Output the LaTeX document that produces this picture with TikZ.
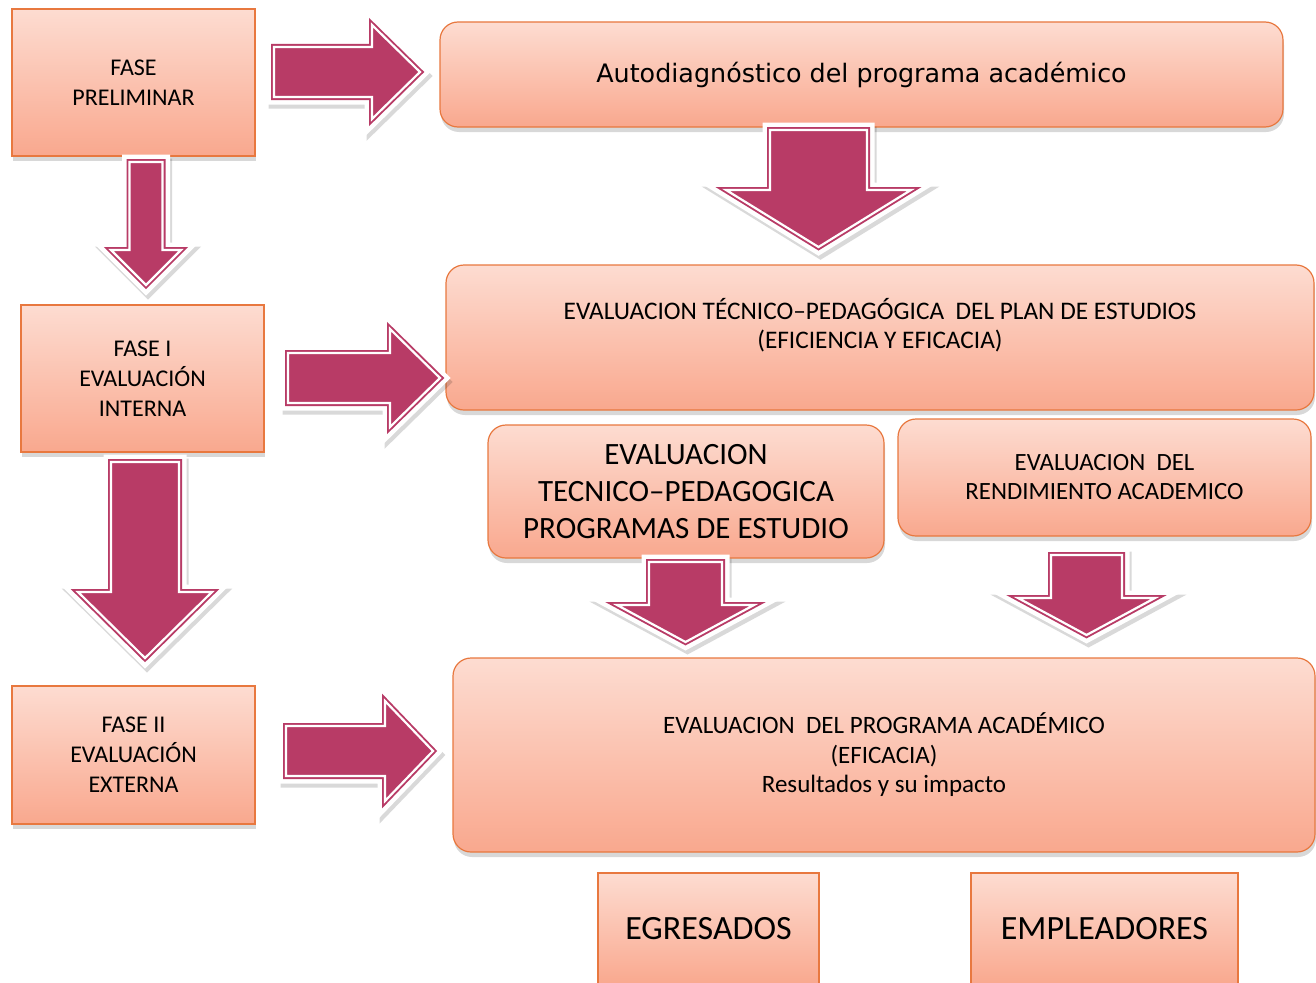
\documentclass[tikz,border=0pt]{standalone}
\usepackage{fontspec}
\setmainfont{Carlito}
\newfontfamily\autofont{DejaVu Sans}
\usepackage{xcolor}
\usetikzlibrary{shadows}

\definecolor{pielclaro}{HTML}{FDDCD1}
\definecolor{pieloscuro}{HTML}{F9A88E}
\definecolor{bordenaranja}{HTML}{E8783F}
\definecolor{flechamagenta}{HTML}{B83B66}

\tikzset{
	caja/.style={draw=bordenaranja, line width=1.2pt, top color=pielclaro, bottom color=pieloscuro, align=center, inner sep=0pt, drop shadow={shadow xshift=1pt, shadow yshift=-5pt, opacity=0.3}},
	fase/.style={caja, font=\fontsize{24}{30}\selectfont},
	etapa/.style={caja, rounded corners=18pt},
	flecha/.style={fill=flechamagenta, draw=flechamagenta, line width=6pt, line join=miter},
	filete/.style={draw=white, line width=2.2pt, line join=miter},
	halo/.style={fill=white, draw=white, line width=15pt, line join=miter},
	sombra/.style={fill=black, draw=black, line width=15pt, line join=miter, opacity=0.15}
}

\newcommand{\trazoder}[6]{(#1,#4-#5) -- (#2,#4-#5) -- (#2,#4-#6) -- (#3,#4) -- (#2,#4+#6) -- (#2,#4+#5) -- (#1,#4+#5) -- cycle}
\newcommand{\trazoabajo}[6]{(#1-#5,#2) -- (#1-#5,#3) -- (#1-#6,#3) -- (#1,#4) -- (#1+#6,#3) -- (#1+#5,#3) -- (#1+#5,#2) -- cycle}
\newcommand{\flechader}[6]{
	\path[sombra, shift={(2,4)}] \trazoder{#1}{#2}{#3}{#4}{#5}{#6};
	\path[halo] \trazoder{#1}{#2}{#3}{#4}{#5}{#6};
	\path[flecha] \trazoder{#1}{#2}{#3}{#4}{#5}{#6};
	\path[filete] \trazoder{#1}{#2}{#3}{#4}{#5}{#6};
}
\newcommand{\flechaabajo}[6]{
	\path[sombra, shift={(2,4)}] \trazoabajo{#1}{#2}{#3}{#4}{#5}{#6};
	\path[halo] \trazoabajo{#1}{#2}{#3}{#4}{#5}{#6};
	\path[flecha] \trazoabajo{#1}{#2}{#3}{#4}{#5}{#6};
	\path[filete] \trazoabajo{#1}{#2}{#3}{#4}{#5}{#6};
}

\begin{document}
\begin{tikzpicture}[x=1pt, y=-1pt]
	\clip (0,0) rectangle (1316,982);
	\fill[white] (0,0) rectangle (1316,982);

	\node[fase, minimum width=243pt, minimum height=147pt] (preliminar) at (133.5,82.5) {FASE\\PRELIMINAR};
	\node[fase, minimum width=243pt, minimum height=147pt] (fasei) at (142.5,378.5) {FASE I\\EVALUACIÓN\\INTERNA};
	\node[fase, minimum width=243pt, minimum height=138pt] (faseii) at (133.5,755) {FASE II\\EVALUACIÓN\\EXTERNA};

	\node[etapa, minimum width=843pt, minimum height=105pt, font=\autofont\fontsize{25.4}{30}\selectfont] (autodiag) at (861.5,74.5) {Autodiagnóstico del programa académico};
	\node[etapa, minimum width=868pt, minimum height=145pt, font=\fontsize{25.3}{29}\selectfont] (plan) at (880,337.5) {EVALUACION TÉCNICO–PEDAGÓGICA\ \ DEL PLAN DE ESTUDIOS\\(EFICIENCIA Y EFICACIA)\\~};
	\node[etapa, minimum width=396pt, minimum height=133pt, font=\fontsize{31}{37}\selectfont] (programas) at (686,491.5) {EVALUACION\\TECNICO–PEDAGOGICA\\PROGRAMAS DE ESTUDIO};
	\node[etapa, minimum width=413pt, minimum height=117pt, font=\fontsize{24.8}{29}\selectfont] (rendimiento) at (1104.5,477.5) {EVALUACION\ \ DEL\\RENDIMIENTO ACADEMICO};
	\node[etapa, minimum width=862pt, minimum height=194pt, font=\fontsize{25}{29.5}\selectfont] (programa) at (884,755) {EVALUACION\ \ DEL PROGRAMA ACADÉMICO\\(EFICACIA)\\Resultados y su impacto};

	\node[caja, minimum width=221pt, minimum height=112pt, font=\fontsize{34}{40}\selectfont] (egresados) at (708.5,929) {EGRESADOS};
	\node[caja, minimum width=267pt, minimum height=112pt, font=\fontsize{34}{40}\selectfont] (empleadores) at (1104.5,929) {EMPLEADORES};

	\flechader{274}{372}{420}{72}{25}{47}
	\flechader{288}{390}{440}{378}{25}{49}
	\flechader{286}{385}{433}{751}{25}{50}

	\flechaabajo{146}{162}{250}{285}{16.5}{35}
	\flechaabajo{818.5}{130}{190}{247}{48.5}{92.5}
	\flechaabajo{145}{462}{592}{658}{34}{67}
	\flechaabajo{685.5}{562}{605}{642}{36.5}{68.5}
	\flechaabajo{1086.5}{555}{598}{635}{35.5}{68.5}
\end{tikzpicture}
\end{document}
